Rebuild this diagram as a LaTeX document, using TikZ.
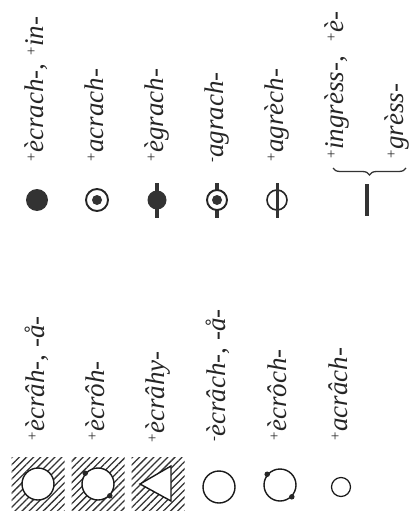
\documentclass[tikz,border=0pt]{standalone}
\usepackage{amssymb,amsmath}
\usepackage{fontspec}
\newfontfamily\glossfont{Liberation Serif}[ItalicFont = {Liberation Serif Italic}]
\usepackage{xcolor}
\usepackage{tikz}
\usetikzlibrary{arrows,positioning,shapes,calc,shapes.geometric}
\usetikzlibrary{patterns.meta,decorations.pathreplacing}

\newcommand{\pl}{\raisebox{0.55ex}{\fontsize{15}{15}\selectfont +}}
\newcommand{\mn}{\raisebox{0.55ex}{\fontsize{15}{15}\selectfont -}}

\begin{document}
\begin{tikzpicture}[
            x = 1pt, y = -1pt, % pixel units, y downwards
            semithick, % line style
            font = \glossfont\fontsize{27}{30}\selectfont\itshape
        ]

        \tikzstyle{vtext}=[rotate = 90, anchor = base west, inner sep = 0pt, text = black!85]
        \tikzstyle{blob}=[circle, fill = black!80, inner sep = 0pt, minimum size = 22pt]
        \tikzstyle{ring}=[circle, draw = black!85, line width = 1.9pt, fill = white,
            inner sep = 0pt, minimum size = 22pt,
            path picture = {\fill[black!80] (path picture bounding box.center) circle (5pt);}]
        \tikzstyle{hoop}=[circle, draw = black!85, line width = 1.6pt, inner sep = 0pt, minimum size = 20pt]
        \tikzstyle{stem}=[line width = 4.5pt, draw = black!80]
        \tikzstyle{hatch}=[rectangle, inner sep = 0pt, minimum size = 53pt,
            pattern = {Lines[angle = 45, distance = 5pt, line width = 1.3pt]}, pattern color = black!80]
        \tikzstyle{hole}=[circle, draw = black!90, line width = 1.4pt, fill = white, inner sep = 0pt, minimum size = 32pt]
        \tikzstyle{knot}=[circle, fill = black!85, inner sep = 0pt, minimum size = 5.5pt]

        \useasboundingbox (0,0) rectangle (414,519);

        % Top symbols
        \coordinate (c) at (157,200);
        \coordinate (d) at (217,200);
        \draw[stem] (c) ++(0,-17) -- ++(0,35);
        \draw[stem] (d) ++(0,-17) -- ++(0,35);
        \node[blob] (a) at (37,200) {};
        \node[ring] (b) at (97,200) {};
        \node[blob, minimum size = 19pt] (cc) at (c) {};
        \node[ring, minimum size = 20pt] (dd) at (d) {};
        \node[hoop] (e) at (277,200) {};
        \draw[stem, line width = 3pt] (e) ++(0,-17) -- ++(0,35);
        \coordinate (f) at (367,200);
        \draw[stem] (f) ++(0,-16) -- ++(0,32);

        % Top labels
        \node[vtext] (la) at (43,163) {\pl ècrach-, \pl in-};
        \node[vtext] (lb) at (103,163) {\pl acrach-};
        \node[vtext] (lc) at (163,163) {\pl ègrach-};
        \node[vtext] (ld) at (223,163) {\mn agrach-};
        \node[vtext] (le) at (283,163) {\pl agrèch-};
        \node[vtext] (lf) at (343,160) {\pl ingrèss-,\enspace\pl è-};
        \node[vtext] (lg) at (403,160) {\pl grèss-};
        \draw[black!80, line width = 1.3pt, decorate, decoration = {brace, mirror, amplitude = 7pt}]
            (333,168) -- (406,168);

        % Bottom symbols
        \node[hatch] (p) at (38,484) {};
        \node[hatch] (q) at (98,484) {};
        \node[hatch] (r) at (158,484) {};
        \node[hole] (p1) at (p) {};
        \node[hole] (q1) at (q) {};
        \node[knot] at (q1.140) {};
        \node[knot] at (q1.-45) {};
        \draw[black!90, line width = 1.4pt, fill = white]
            ([xshift = -18pt]r.center) -- ([xshift = 13pt, yshift = 18pt]r.center)
            -- ([xshift = 13pt, yshift = -17pt]r.center) -- cycle;
        \node[hole] (s) at (219,487) {};
        \node[hole] (t) at (280,485) {};
        \node[knot] at (t.140) {};
        \node[knot] at (t.-45) {};
        \node[hole, line width = 1.2pt, minimum size = 19pt] (u) at (341,487) {};

        % Bottom labels
        \node[vtext] (lp) at (44,442) {\pl ècrâh-, -å-};
        \node[vtext] (lq) at (104,442) {\pl ècrôh-};
        \node[vtext] (lr) at (164,444) {\pl ècrâhy-};
        \node[vtext] (ls) at (225,442) {\mn ècrâch-, -å-};
        \node[vtext] (lt) at (286,442) {\pl ècrôch-};
        \node[vtext] (lu) at (347,442) {\pl acrâch-};
      \end{tikzpicture}
\end{document}
